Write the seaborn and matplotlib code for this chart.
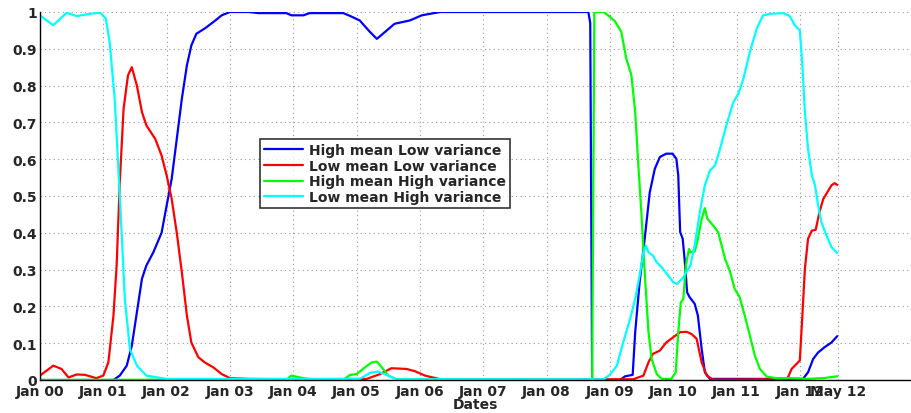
import matplotlib
matplotlib.use("Agg")

import pandas as pd
import matplotlib.pyplot as plt
import seaborn as sns

# x positions are fractional years from Jan 2000, values are regime probabilities
hmlv_x = [0.0, 1.16, 1.26, 1.37, 1.45, 1.53, 1.61, 1.68, 1.79, 1.92, 2.0, 2.08, 2.16, 2.24, 2.32,
          2.39, 2.47, 2.6, 2.74, 2.87, 3.0, 3.3, 3.45, 3.89, 3.97, 4.16, 4.26, 4.79, 4.9, 5.05,
          5.21, 5.32, 5.45, 5.6, 5.84, 6.03, 6.32, 7.05, 8.66, 8.69, 8.72, 9.16, 9.24, 9.36,
          9.4, 9.47, 9.55, 9.63, 9.71, 9.79, 9.89, 9.99, 10.05, 10.08, 10.11, 10.15, 10.18,
          10.22, 10.26, 10.34, 10.39, 10.45, 10.5, 10.58, 12.05, 12.13, 12.21, 12.29, 12.39,
          12.5, 12.59]
hmlv_y = [0.0, 0.0, 0.012, 0.039, 0.093, 0.184, 0.275, 0.311, 0.347, 0.40, 0.474, 0.547, 0.655,
          0.764, 0.855, 0.909, 0.941, 0.955, 0.973, 0.991, 1.0, 1.0, 0.997, 0.997, 0.991, 0.991,
          0.997, 0.997, 0.989, 0.977, 0.946, 0.927, 0.946, 0.968, 0.977, 0.991, 1.0, 1.0, 1.0,
          0.97, 0.0, 0.0, 0.01, 0.014, 0.13, 0.266, 0.384, 0.51, 0.574, 0.606, 0.615, 0.615,
          0.601, 0.556, 0.402, 0.384, 0.329, 0.238, 0.225, 0.207, 0.175, 0.084, 0.021, 0.003,
          0.003, 0.021, 0.057, 0.075, 0.089, 0.102, 0.119]

lmlv_x = [0.0, 0.21, 0.34, 0.45, 0.58, 0.71, 0.89, 1.0, 1.08, 1.16, 1.21, 1.26, 1.32, 1.39, 1.45,
          1.53, 1.61, 1.68, 1.82, 1.92, 2.0, 2.08, 2.16, 2.24, 2.32, 2.39, 2.5, 2.6, 2.74, 2.87,
          3.0, 3.3, 4.0, 5.16, 5.37, 5.55, 5.79, 5.92, 6.08, 6.32, 9.37, 9.53, 9.61, 9.68, 9.79,
          9.89, 10.0, 10.11, 10.21, 10.29, 10.37, 10.45, 10.53, 10.63, 11.8, 11.87, 11.95, 12.0,
          12.04, 12.08, 12.13, 12.19, 12.25, 12.31, 12.37, 12.42, 12.5, 12.55, 12.59]
lmlv_y = [0.012, 0.039, 0.03, 0.007, 0.015, 0.014, 0.005, 0.012, 0.048, 0.175, 0.31, 0.538,
          0.737, 0.828, 0.85, 0.80, 0.728, 0.692, 0.655, 0.61, 0.556, 0.492, 0.40, 0.293, 0.175,
          0.102, 0.062, 0.048, 0.034, 0.016, 0.005, 0.003, 0.002, 0.003, 0.016, 0.032, 0.03, 0.024,
          0.012, 0.002, 0.002, 0.012, 0.048, 0.071, 0.08, 0.102, 0.116, 0.13, 0.131, 0.125, 0.112,
          0.048, 0.012, 0.001, 0.002, 0.03, 0.044, 0.053, 0.175, 0.302, 0.384, 0.406, 0.408,
          0.456, 0.492, 0.506, 0.529, 0.535, 0.53]

hmhv_x = [0.0, 3.9, 3.97, 4.1, 4.31, 4.79, 4.9, 5.0, 5.13, 5.24, 5.32, 5.4, 5.5, 5.63, 8.72,
          8.755, 8.9, 8.97, 9.08, 9.18, 9.26, 9.34, 9.4, 9.45, 9.5, 9.55, 9.61, 9.66, 9.74, 9.82,
          9.97, 10.04, 10.08, 10.12, 10.16, 10.2, 10.25, 10.27, 10.34, 10.39, 10.45, 10.5, 10.54,
          10.63, 10.71, 10.82, 10.9, 10.97, 11.05, 11.13, 11.21, 11.29, 11.37, 11.48, 11.63,
          11.84, 12.1, 12.37, 12.59]
hmhv_y = [0.0, 0.002, 0.012, 0.007, 0.001, 0.001, 0.014, 0.016, 0.034, 0.048, 0.05, 0.034, 0.012,
          0.002, 0.0, 1.0, 1.0, 0.991, 0.975, 0.946, 0.873, 0.828, 0.728, 0.583, 0.447, 0.293,
          0.13, 0.057, 0.016, 0.003, 0.003, 0.021, 0.13, 0.211, 0.22, 0.311, 0.356, 0.347, 0.349,
          0.383, 0.438, 0.467, 0.438, 0.42, 0.402, 0.329, 0.293, 0.248, 0.225, 0.175, 0.121,
          0.066, 0.03, 0.009, 0.005, 0.005, 0.003, 0.005, 0.01]

lmhv_x = [0.0, 0.21, 0.42, 0.58, 0.79, 0.95, 1.04, 1.1, 1.18, 1.26, 1.34, 1.42, 1.53, 1.68, 2.0,
          5.05, 5.21, 5.34, 5.47, 5.63, 8.9, 9.0, 9.11, 9.21, 9.32, 9.4, 9.47, 9.53, 9.57, 9.61,
          9.68, 9.74, 9.82, 9.92, 10.0, 10.06, 10.16, 10.27, 10.34, 10.42, 10.5, 10.58, 10.66,
          10.74, 10.84, 10.95, 11.03, 11.11, 11.21, 11.32, 11.42, 11.53, 11.74, 11.84, 11.92,
          12.0, 12.04, 12.08, 12.13, 12.19, 12.24, 12.29, 12.34, 12.42, 12.5, 12.59]
lmhv_y = [0.991, 0.964, 0.998, 0.989, 0.995, 0.998, 0.982, 0.918, 0.764, 0.501, 0.22, 0.084,
          0.039, 0.012, 0.003, 0.003, 0.019, 0.023, 0.014, 0.002, 0.002, 0.014, 0.039, 0.102,
          0.166, 0.22, 0.284, 0.347, 0.365, 0.347, 0.338, 0.32, 0.306, 0.284, 0.266, 0.261,
          0.279, 0.311, 0.365, 0.456, 0.529, 0.569, 0.583, 0.628, 0.692, 0.755, 0.778, 0.819,
          0.891, 0.955, 0.991, 0.995, 0.997, 0.989, 0.964, 0.95, 0.855, 0.728, 0.628, 0.556,
          0.529, 0.474, 0.429, 0.393, 0.361, 0.345]

regimes = ["High mean Low variance", "Low mean Low variance",
           "High mean High variance", "Low mean High variance"]
colors = ["#0000ff", "#ff0000", "#00ff00", "#00ffff"]

tick_pos = list(range(13)) + [12.6]
tick_labels = [f"Jan {y:02d}" for y in range(13)] + ["May 12"]

sns.set_style("white")
plt.rcParams["font.family"] = ["DejaVu Sans"]
plt.rcParams["font.weight"] = "bold"
plt.rcParams["font.size"] = 10

frames = []
for name, xs, ys in zip(regimes, [hmlv_x, lmlv_x, hmhv_x, lmhv_x],
                        [hmlv_y, lmlv_y, hmhv_y, lmhv_y]):
    frames.append(pd.DataFrame({"year": xs, "prob": ys, "regime": name}))
df = pd.concat(frames, ignore_index=True)

fig = plt.figure(figsize=(9.11, 4.14), dpi=100)
ax = fig.add_axes([40 / 911, 33 / 414, 870 / 911, 368 / 414])

sns.lineplot(data=df, x="year", y="prob", hue="regime", hue_order=regimes,
             palette=colors, estimator=None, sort=False, linewidth=1.6, ax=ax)

ax.set_xlim(0, 13.74)
ax.set_ylim(0, 1)
ax.set_xticks(tick_pos)
ax.set_xticklabels(tick_labels, fontweight="bold")
ax.set_yticks([i / 10 for i in range(11)])
ax.yaxis.set_major_formatter(plt.FuncFormatter(lambda v, _: f"{v:g}"))
for lab in ax.get_yticklabels():
    lab.set_fontweight("bold")
ax.tick_params(direction="in", length=3, labelsize=10)
ax.tick_params(axis="x", pad=3)
ax.tick_params(axis="y", pad=2)
ax.grid(True, linestyle=(0, (1, 3)), color="#999999", linewidth=0.8)
ax.set_xlabel("Dates", fontweight="bold", labelpad=-1)
ax.set_ylabel("")
for side in ["top", "right"]:
    ax.spines[side].set_visible(False)
for side in ["left", "bottom"]:
    ax.spines[side].set_color("black")
    ax.spines[side].set_linewidth(1.0)

leg = ax.legend(loc="upper left", bbox_to_anchor=(0.245, 0.674), frameon=True,
                fancybox=False, edgecolor="black", handlelength=2.8,
                labelspacing=0.12, borderpad=0.3, handletextpad=0.4,
                prop={"weight": "bold", "size": 10})
leg.get_frame().set_linewidth(1.2)
for line in leg.get_lines():
    line.set_linewidth(1.6)

fig.savefig("out.png", dpi=100)
